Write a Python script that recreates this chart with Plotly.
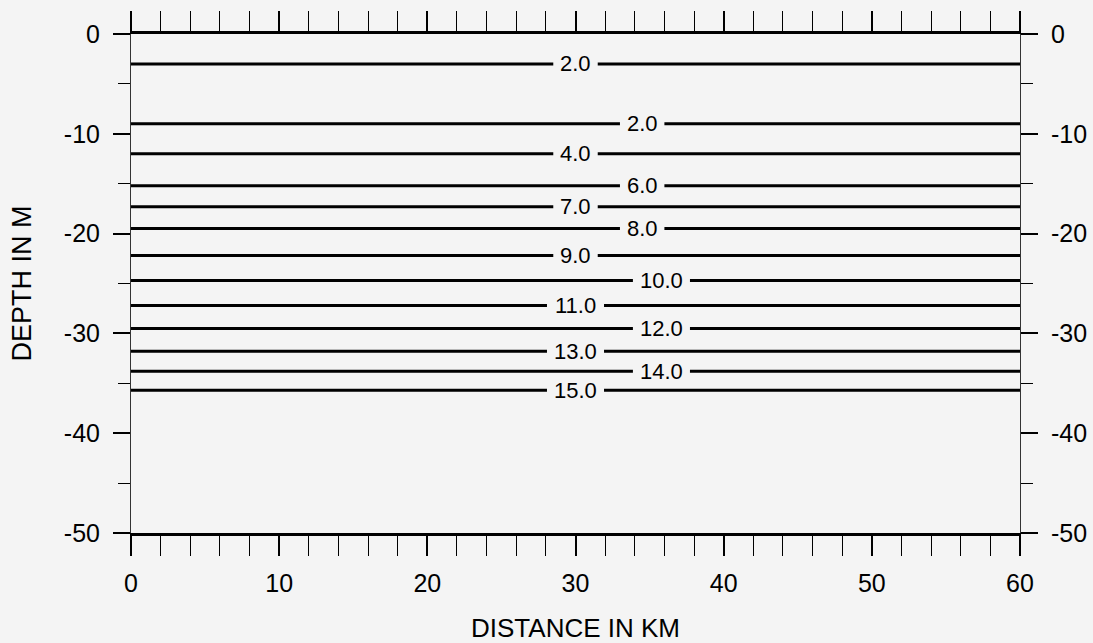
import plotly.graph_objects as go

# Section extent along the profile (km)
distance_km = [0, 60]

# Isoline depths (m) and their labels
contour_depth_m = [-3.0, -9.0, -12.0, -15.2, -17.3, -19.5, -22.2,
                   -24.7, -27.2, -29.5, -31.8, -33.8, -35.7]
contour_labels = ["2.0", "2.0", "4.0", "6.0", "7.0", "8.0", "9.0",
                  "10.0", "11.0", "12.0", "13.0", "14.0", "15.0"]
label_x_km = [30.0, 34.5, 30.0, 34.5, 30.0, 34.5, 30.0,
              35.8, 30.0, 35.8, 30.0, 35.8, 30.0]

# Axis ticks
x_ticks = [0, 10, 20, 30, 40, 50, 60]
y_ticks = [0, -10, -20, -30, -40, -50]
y_tick_text = ["0", "-10", "-20", "-30", "-40", "-50"]

BG = "#f4f4f4"
FONT = "Liberation Sans, Arial, Helvetica, sans-serif"

fig = go.Figure()

for depth, label, lx in zip(contour_depth_m, contour_labels, label_x_km):
    half_gap = (0.85 * len(label) + 0.45) / 2
    x0, x1 = distance_km
    fig.add_trace(go.Scatter(
        x=[x0, lx - half_gap, None, lx + half_gap, x1],
        y=[depth, depth, None, depth, depth],
        mode="lines",
        line=dict(color="black", width=3),
        hoverinfo="skip",
        showlegend=False,
    ))
    fig.add_annotation(
        x=lx, y=depth, text=label, showarrow=False,
        font=dict(family=FONT, size=22, color="black"),
        xanchor="center", yanchor="middle",
    )

# invisible trace that carries the right-hand depth axis
fig.add_trace(go.Scatter(
    x=distance_km, y=[-50, 0], yaxis="y2", mode="lines",
    line=dict(width=0), hoverinfo="skip", showlegend=False,
    opacity=0,
))

yaxis_common = dict(
    range=[-50, 0],
    tickvals=y_ticks,
    ticktext=y_tick_text,
    ticks="outside",
    ticklen=17,
    tickwidth=1.5,
    tickcolor="black",
    showline=True,
    linecolor="#333333",
    linewidth=1,
    showgrid=False,
    zeroline=False,
    automargin=False,
    tickfont=dict(family=FONT, size=25, color="black"),
    minor=dict(dtick=5, tick0=0, ticks="outside", ticklen=12,
               tickwidth=1.2, tickcolor="black", showgrid=False),
    ticklabelstandoff=8,
)

fig.update_layout(
    width=1093, height=643,
    paper_bgcolor=BG, plot_bgcolor=BG,
    margin=dict(l=131, r=73, t=34, b=110),
    font=dict(family=FONT, color="black"),
    showlegend=False,
    xaxis=dict(
        range=[0, 60],
        tickvals=x_ticks,
        ticks="outside",
        ticklen=20,
        tickwidth=1.5,
        tickcolor="black",
        showline=True,
        linecolor="black",
        linewidth=2.5,
        mirror="allticks",
        showgrid=False,
        zeroline=False,
        automargin=False,
        tickfont=dict(family=FONT, size=25, color="black"),
        minor=dict(dtick=2, tick0=0, ticks="outside", ticklen=13,
                   tickwidth=1.2, tickcolor="black", showgrid=False),
        ticklabelstandoff=6,
        title=dict(text="DISTANCE IN KM",
                   font=dict(family=FONT, size=26, color="black"),
                   standoff=30),
    ),
    yaxis=dict(
        **yaxis_common,
        side="left",
        title=dict(text="DEPTH IN M",
                   font=dict(family=FONT, size=27, color="black"),
                   standoff=24),
    ),
    yaxis2=dict(
        **yaxis_common,
        side="right",
        overlaying="y",
    ),
)

fig.write_html("out.html")
